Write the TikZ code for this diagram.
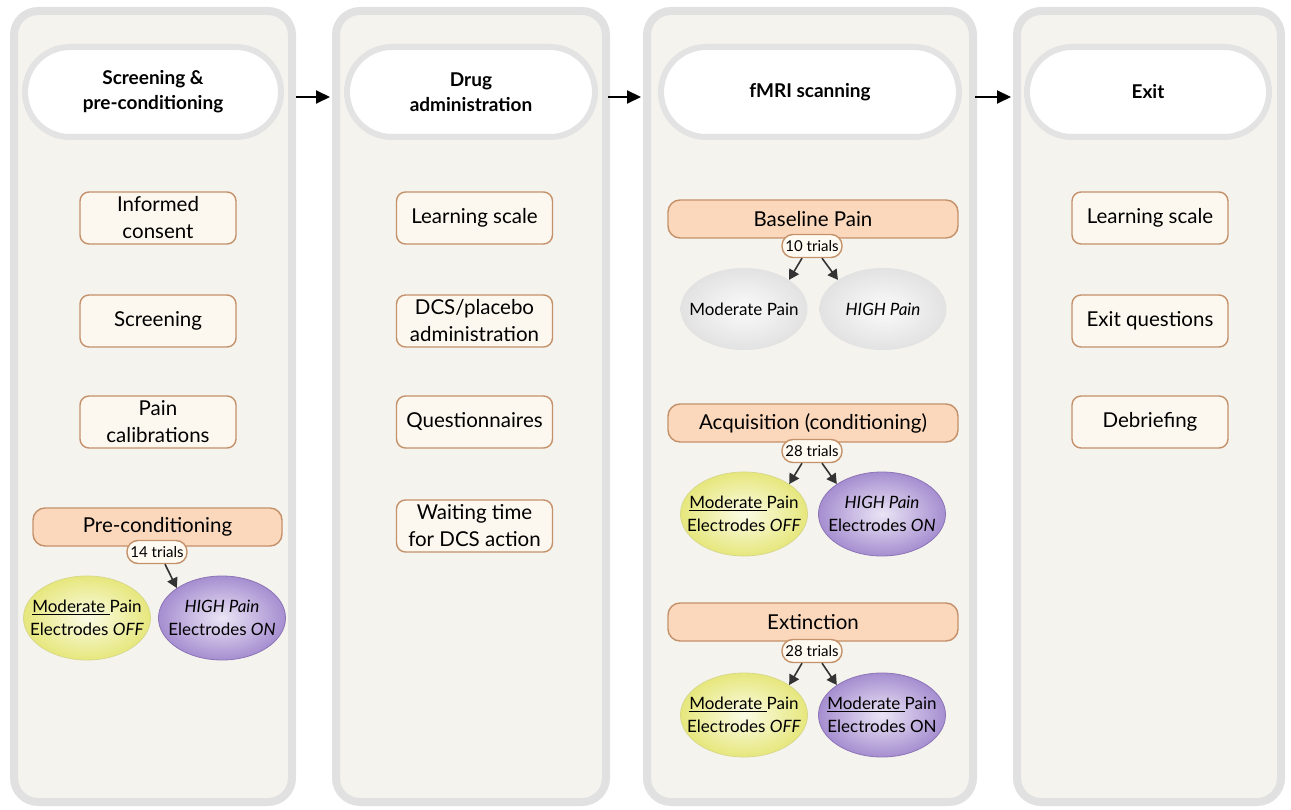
\documentclass[tikz,border=0pt]{standalone}
\usepackage{fontspec}
\setmainfont{Lato}
\usetikzlibrary{shapes.geometric,arrows.meta}
\definecolor{panelfill}{HTML}{F4F3EE}
\definecolor{panelborder}{HTML}{E1E1E1}
\definecolor{headborder}{HTML}{E3E3E3}
\definecolor{boxfill}{HTML}{FDF8EF}
\definecolor{boxborder}{HTML}{C4916A}
\definecolor{peach}{HTML}{FBD8BC}
\definecolor{trialfill}{HTML}{FFFAF2}
\definecolor{yelout}{HTML}{E6E77C}
\definecolor{yelin}{HTML}{FBFBE6}
\definecolor{yelborder}{HTML}{D9D98A}
\definecolor{purout}{HTML}{A68ED0}
\definecolor{purin}{HTML}{EAE4F5}
\definecolor{purborder}{HTML}{8C74B6}
\definecolor{greyout}{HTML}{E2E2E2}
\definecolor{greyin}{HTML}{FAFAFA}
\definecolor{arrowgrey}{HTML}{333333}
\tikzset{
  panel/.style={draw=panelborder, line width=8pt, fill=panelfill, rounded corners=24pt, minimum height=791pt, inner sep=0pt},
  header/.style={draw=headborder, line width=6pt, fill=white, rounded corners=45pt, minimum height=90pt, align=center, font=\fontsize{19}{25}\selectfont\bfseries, inner sep=0pt},
  stepbox/.style={draw=boxborder, line width=1.4pt, fill=boxfill, rounded corners=9pt, minimum width=156pt, minimum height=52pt, align=center, inner sep=0pt, font=\fontsize{20.5}{27}\selectfont},
  phase/.style={draw=boxborder, line width=1.4pt, fill=peach, rounded corners=12pt, minimum height=38pt, inner sep=0pt, font=\fontsize{20.5}{24}\selectfont},
  trials/.style={draw=boxborder, line width=1.4pt, fill=trialfill, rounded corners=11pt, minimum width=60pt, minimum height=23pt, inner sep=2pt, font=\fontsize{15}{17}\selectfont},
  ell/.style={ellipse, minimum width=127pt, minimum height=84pt, inner xsep=-40pt, inner ysep=-15pt, align=center, font=\fontsize{17}{23}\selectfont},
  yel/.style={ell, shading=radial, inner color=yelin, outer color=yelout, draw=yelborder, line width=0.8pt},
  pur/.style={ell, shading=radial, inner color=purin, outer color=purout, draw=purborder, line width=0.8pt},
  gry/.style={ell, shading=radial, inner color=greyin, outer color=greyout, minimum height=82pt},
  bigarr/.style={-{Triangle[length=14pt,width=13pt]}, line width=2pt, black},
  smallarr/.style={-{Triangle[length=10pt,width=11pt]}, line width=1.6pt, arrowgrey},
}
\begin{document}
\begin{tikzpicture}[x=1pt,y=-1pt]
\useasboundingbox (0,0) rectangle (1291,810);
% panels
\node[panel, minimum width=278pt] (p1) at (153,406.5) {};
\node[panel, minimum width=270pt] (p2) at (471,406.5) {};
\node[panel, minimum width=326pt] (p3) at (810,406.5) {};
\node[panel, minimum width=264pt] (p4) at (1149,406.5) {};
% headers
\node[header, minimum width=256pt] (h1) at (153,92) {Screening \&\\pre-conditioning};
\node[header, minimum width=248pt] (h2) at (471,92) {Drug\\administration};
\node[header, minimum width=298pt] (h3) at (810,92) {fMRI scanning};
\node[header, minimum width=242pt] (h4) at (1148,92) {Exit};
% arrows between panels
\coordinate (ay) at (0,97);
\draw[bigarr] (p1.east |- ay) -- ([xshift=-2pt]p2.west |- ay);
\draw[bigarr] ([xshift=-2pt]p2.east |- ay) -- ([xshift=-2pt]p3.west |- ay);
\draw[bigarr] ([xshift=-2pt]p3.east |- ay) -- ([xshift=-2pt]p4.west |- ay);
% panel 1
\node[stepbox] (s11) at (158,218) {Informed\\consent};
\node[stepbox] (s12) at (158,321) {Screening};
\node[stepbox] (s13) at (158,422) {Pain\\calibrations};
\node[phase, minimum width=249pt] (pre) at (157.5,527) {Pre-conditioning};
\node[yel] (e11) at (87,618) {\underline{Moderate }Pain\\Electrodes \textit{OFF}};
\node[pur] (e12) at (222,618) {\textit{HIGH Pain}\\Electrodes \textit{ON}};
\node[trials] (t1) at (157,552) {14 trials};
\draw[smallarr] ([xshift=8pt]t1.south) -- (e12.north west);
% panel 2
\node[stepbox] (s21) at (474.5,218) {Learning scale};
\node[stepbox] (s22) at (474.5,321) {DCS/placebo\\administration};
\node[stepbox] (s23) at (474.5,422) {Questionnaires};
\node[stepbox] (s24) at (474.5,526) {Waiting time\\for DCS action};
% panel 3
\node[phase, minimum width=290pt] (base) at (813,219) {Baseline Pain};
\node[gry] (e31) at (744,309) {Moderate Pain};
\node[gry] (e32) at (883,309) {\textit{HIGH Pain}};
\node[trials] (t3) at (812,246) {10 trials};
\draw[smallarr] ([xshift=-10pt]t3.south) -- (e31.north east);
\draw[smallarr] ([xshift=10pt]t3.south) -- (e32.north west);
\node[phase, minimum width=290pt] (acq) at (813,423) {Acquisition (conditioning)};
\node[yel] (e33) at (744,514) {\underline{Moderate }Pain\\Electrodes \textit{OFF}};
\node[pur] (e34) at (882,514) {\textit{HIGH Pain}\\Electrodes \textit{ON}};
\node[trials] (t4) at (812,451) {28 trials};
\draw[smallarr] ([xshift=-10pt]t4.south) -- (e33.north east);
\draw[smallarr] ([xshift=10pt]t4.south) -- (e34.north west);
\node[phase, minimum width=290pt] (ext) at (813,622) {Extinction};
\node[yel] (e35) at (744,715) {\underline{Moderate }Pain\\Electrodes \textit{OFF}};
\node[pur] (e36) at (882,715) {\underline{Moderate }Pain\\Electrodes ON};
\node[trials] (t5) at (812,651) {28 trials};
\draw[smallarr] ([xshift=-10pt]t5.south) -- (e35.north east);
\draw[smallarr] ([xshift=10pt]t5.south) -- (e36.north west);
% panel 4
\node[stepbox] (s41) at (1150,218) {Learning scale};
\node[stepbox] (s42) at (1150,321) {Exit questions};
\node[stepbox] (s43) at (1150,422) {Debriefing};
\end{tikzpicture}
\end{document}
